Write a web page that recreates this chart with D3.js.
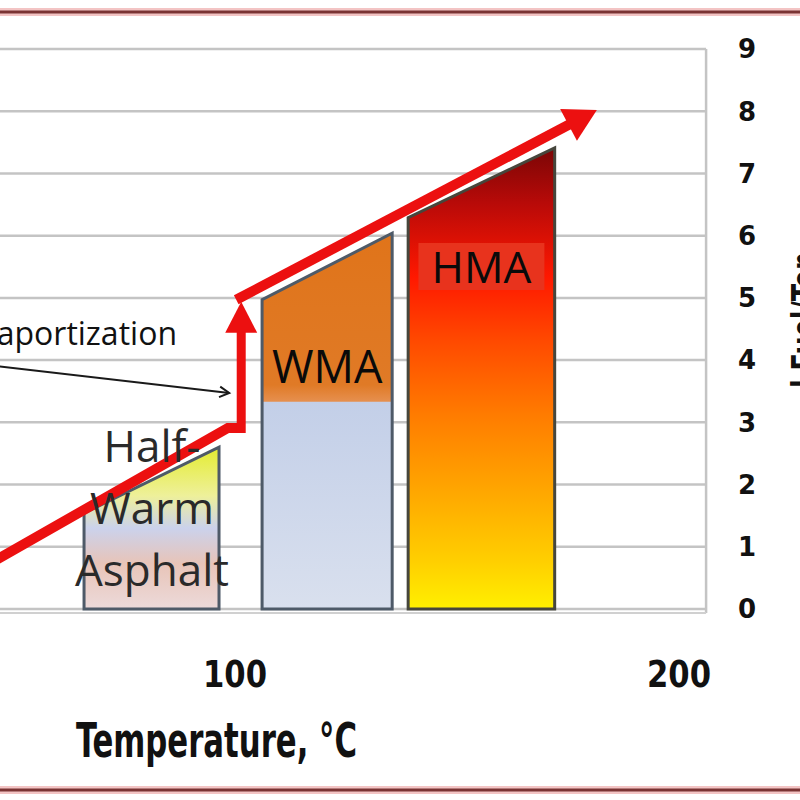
<!DOCTYPE html>
<html>
<head>
<meta charset="utf-8">
<script src="https://cdn.jsdelivr.net/npm/d3@7"></script>
<style>
  body { margin: 0; background: #fff; }
  svg { display: block; }
</style>
</head>
<body>
<div id="chart"></div>
<script>
// values
var yTicks = [0, 1, 2, 3, 4, 5, 6, 7, 8, 9];
var xTickLabels = [100, 200];
var barNames = ["Half-Warm Asphalt", "WMA", "HMA"];
var barStart = [66, 106.1, 139];       // °C
var barEnd = [96.4, 135.4, 172];
var barTopLeft = [1.54, 4.97, 6.29];   // l fuel / ton
var barTopRight = [2.60, 6.04, 7.41];
var wmaSplit = 3.33;                   // orange part of WMA starts here
var lowTemp = [45, 98.4, 101.4];       // lower red line
var lowVal = [0.74, 2.91, 2.91];
var jumpTemp = 101.4, jumpFrom = 2.91, jumpTo = 4.97;
var highTemp = [101.4, 181.5];         // upper red line
var highVal = [4.97, 8.02];
var plotTemp = [40, 206.1];

var width = 800, height = 800;

var x = d3.scaleLinear().domain([100, 200]).range([235, 679]);
var y = d3.scaleLinear().domain([0, 9]).range([609, 49]);

var svg = d3.select("#chart").append("svg")
    .attr("width", width)
    .attr("height", height);

var defs = svg.append("defs");

function grad(id, stops, y1, y2) {
  var g = defs.append("linearGradient")
      .attr("id", id)
      .attr("gradientUnits", "userSpaceOnUse")
      .attr("x1", 0).attr("x2", 0)
      .attr("y1", y1).attr("y2", y2);
  stops.forEach(function (s) {
    g.append("stop").attr("offset", s[0]).attr("stop-color", s[1]);
  });
}

grad("gHalf", [[0, "#e4ec30"], [0.3, "#eef09a"], [0.5, "#cbd2ec"], [0.72, "#e8c4b8"], [1, "#ecdada"]], y(barTopRight[0]), y(0));
grad("gHma", [[0, "#7a0606"], [0.12, "#b80a08"], [0.28, "#ff1800"], [0.42, "#ff4a00"], [0.58, "#ff7c00"], [0.75, "#ffa800"], [0.9, "#ffd000"], [1, "#fff000"]], y(barTopRight[2]), y(0));
grad("gWmaBlue", [[0, "#c3cfe8"], [1, "#d9e0ee"]], y(wmaSplit), y(0));
grad("gWmaOr", [[0, "#e0741a"], [0.9, "#e07a26"], [1, "#e69050"]], y(barTopRight[1]), y(wmaSplit));

// frame lines at top and bottom
[12, 790].forEach(function (yy) {
  svg.append("line").attr("x1", 0).attr("x2", width).attr("y1", yy).attr("y2", yy)
    .attr("stroke", "#f3c4c4").attr("stroke-width", 8);
  svg.append("line").attr("x1", 0).attr("x2", width).attr("y1", yy).attr("y2", yy)
    .attr("stroke", "#7a3434").attr("stroke-width", 3);
});

// grid
svg.selectAll(".grid")
  .data(yTicks)
  .enter().append("line")
    .attr("class", "grid")
    .attr("x1", x(plotTemp[0])).attr("x2", x(plotTemp[1]))
    .attr("y1", function (d) { return y(d); })
    .attr("y2", function (d) { return y(d); })
    .attr("stroke", "#c4c4c4")
    .attr("stroke-width", 2.5);

svg.append("line")
  .attr("x1", x(plotTemp[1])).attr("x2", x(plotTemp[1]))
  .attr("y1", y(9)).attr("y2", y(0) + 4)
  .attr("stroke", "#c4c4c4").attr("stroke-width", 2.5);

svg.append("line")
  .attr("x1", x(plotTemp[0])).attr("x2", x(plotTemp[1]))
  .attr("y1", y(0) + 4).attr("y2", y(0) + 4)
  .attr("stroke", "#d0d0d0").attr("stroke-width", 2);

// bars (sloped tops)
function barPath(i, top0, top1) {
  return "M" + x(barStart[i]) + "," + y(0) +
    "L" + x(barStart[i]) + "," + y(top0) +
    "L" + x(barEnd[i]) + "," + y(top1) +
    "L" + x(barEnd[i]) + "," + y(0) + "Z";
}

var fills = ["url(#gHalf)", "url(#gWmaBlue)", "url(#gHma)"];
barNames.forEach(function (n, i) {
  svg.append("path")
    .attr("d", barPath(i, barTopLeft[i], barTopRight[i]))
    .attr("fill", fills[i]);
});

// orange top part of WMA
svg.append("path")
  .attr("d", "M" + x(barStart[1]) + "," + y(wmaSplit) +
    "L" + x(barStart[1]) + "," + y(barTopLeft[1]) +
    "L" + x(barEnd[1]) + "," + y(barTopRight[1]) +
    "L" + x(barEnd[1]) + "," + y(wmaSplit) + "Z")
  .attr("fill", "url(#gWmaOr)");

var borders = ["#4e5a68", "#4e5a68", "#46463c"];
barNames.forEach(function (n, i) {
  svg.append("path")
    .attr("d", barPath(i, barTopLeft[i], barTopRight[i]))
    .attr("fill", "none")
    .attr("stroke", borders[i])
    .attr("stroke-width", 3);
});

// HMA label box
var hmaMid = (x(barStart[2]) + x(barEnd[2])) / 2;
svg.append("rect")
  .attr("x", hmaMid - 63).attr("y", 243)
  .attr("width", 126).attr("height", 47)
  .attr("fill", "#e8331d");

var labelFont = "'Open Sans', sans-serif";

svg.append("text")
  .attr("x", hmaMid).attr("y", 283)
  .attr("text-anchor", "middle")
  .attr("font-family", labelFont).attr("font-size", 44)
  .attr("fill", "#0a0a0a")
  .text("HMA");

svg.append("text")
  .attr("x", (x(barStart[1]) + x(barEnd[1])) / 2).attr("y", 383)
  .attr("text-anchor", "middle")
  .attr("font-family", labelFont).attr("font-size", 45)
  .attr("fill", "#0a0a0a")
  .text("WMA");

// red lines
var red = "#ec1010";
var line = d3.line()
  .x(function (d) { return x(d[0]); })
  .y(function (d) { return y(d[1]); });

svg.append("path")
  .attr("d", line(d3.zip(lowTemp, lowVal)))
  .attr("fill", "none").attr("stroke", red)
  .attr("stroke-width", 10).attr("stroke-linejoin", "miter");

// vertical jump arrow
svg.append("line")
  .attr("x1", x(jumpTemp)).attr("x2", x(jumpTemp))
  .attr("y1", y(jumpFrom) + 5).attr("y2", y(jumpTo) + 20)
  .attr("stroke", red).attr("stroke-width", 9);
svg.append("path")
  .attr("d", "M" + (x(jumpTemp) - 16) + "," + (y(jumpTo) + 33) +
    "L" + x(jumpTemp) + "," + (y(jumpTo) + 2) +
    "L" + (x(jumpTemp) + 16) + "," + (y(jumpTo) + 33) + "Z")
  .attr("fill", red);

// upper line with arrow head
var p0 = [x(highTemp[0]) - 5, y(highVal[0])];
var p1 = [x(highTemp[1]), y(highVal[1])];
var ang = Math.atan2(p1[1] - p0[1], p1[0] - p0[0]);
var headLen = 32, headHalf = 18;
var base = [p1[0] - headLen * Math.cos(ang), p1[1] - headLen * Math.sin(ang)];
svg.append("line")
  .attr("x1", p0[0]).attr("y1", p0[1])
  .attr("x2", base[0] + 4 * Math.cos(ang)).attr("y2", base[1] + 4 * Math.sin(ang))
  .attr("stroke", red).attr("stroke-width", 10);
svg.append("path")
  .attr("d", "M" + p1[0] + "," + p1[1] +
    "L" + (base[0] - headHalf * Math.sin(ang)) + "," + (base[1] + headHalf * Math.cos(ang)) +
    "L" + (base[0] + headHalf * Math.sin(ang)) + "," + (base[1] - headHalf * Math.cos(ang)) + "Z")
  .attr("fill", red);

// Half-Warm Asphalt label (over the red line)
var halfMid = 152;
["Half-", "Warm", "Asphalt"].forEach(function (t, i) {
  svg.append("text")
    .attr("x", halfMid).attr("y", 462 + i * 62)
    .attr("text-anchor", "middle")
    .attr("font-family", labelFont).attr("font-size", 44)
    .attr("fill", "#2a2a2a")
    .text(t);
});

// vaporization note + arrow
svg.append("text")
  .attr("x", 177).attr("y", 345)
  .attr("text-anchor", "end")
  .attr("font-family", labelFont).attr("font-size", 32)
  .attr("fill", "#111")
  .text("Vaportization");

var a0 = [-5, 366], a1 = [x(jumpTemp) - 12, 393];
var aa = Math.atan2(a1[1] - a0[1], a1[0] - a0[0]);
svg.append("line")
  .attr("x1", a0[0]).attr("y1", a0[1]).attr("x2", a1[0]).attr("y2", a1[1])
  .attr("stroke", "#1a1a1a").attr("stroke-width", 2);
svg.append("path")
  .attr("d", "M" + (a1[0] - 11 * Math.cos(aa - 0.5)) + "," + (a1[1] - 11 * Math.sin(aa - 0.5)) +
    "L" + a1[0] + "," + a1[1] +
    "L" + (a1[0] - 11 * Math.cos(aa + 0.5)) + "," + (a1[1] - 11 * Math.sin(aa + 0.5)))
  .attr("fill", "none").attr("stroke", "#1a1a1a").attr("stroke-width", 2);

// right axis labels
svg.selectAll(".ytick")
  .data(yTicks)
  .enter().append("text")
    .attr("class", "ytick")
    .attr("x", 747)
    .attr("y", function (d) { return y(d); })
    .attr("dy", "0.36em")
    .attr("text-anchor", "middle")
    .attr("font-family", "'DejaVu Sans', sans-serif")
    .attr("font-weight", "bold")
    .attr("font-size", 26)
    .attr("fill", "#111")
    .text(function (d) { return d; });

var condFont = "'DejaVu Sans Condensed', 'DejaVu Sans', sans-serif";

svg.selectAll(".xtick")
  .data(xTickLabels)
  .enter().append("text")
    .attr("class", "xtick")
    .attr("x", function (d) { return x(d); })
    .attr("y", 687)
    .attr("text-anchor", "middle")
    .attr("font-family", condFont)
    .attr("font-weight", "bold")
    .attr("font-size", 37)
    .attr("textLength", 64)
    .attr("lengthAdjust", "spacingAndGlyphs")
    .attr("fill", "#111")
    .text(function (d) { return d; });

svg.append("text")
  .attr("x", 76).attr("y", 757)
  .attr("font-family", condFont)
  .attr("font-weight", "bold")
  .attr("font-size", 48)
  .attr("textLength", 281)
  .attr("lengthAdjust", "spacingAndGlyphs")
  .attr("fill", "#111")
  .text("Temperature, °C");

svg.append("text")
  .attr("transform", "translate(816,320) rotate(-90)")
  .attr("text-anchor", "middle")
  .attr("font-family", condFont)
  .attr("font-weight", "bold")
  .attr("font-size", 34)
  .attr("textLength", 136)
  .attr("lengthAdjust", "spacingAndGlyphs")
  .attr("fill", "#111")
  .text("l Fuel/Ton");
</script>
</body>
</html>
